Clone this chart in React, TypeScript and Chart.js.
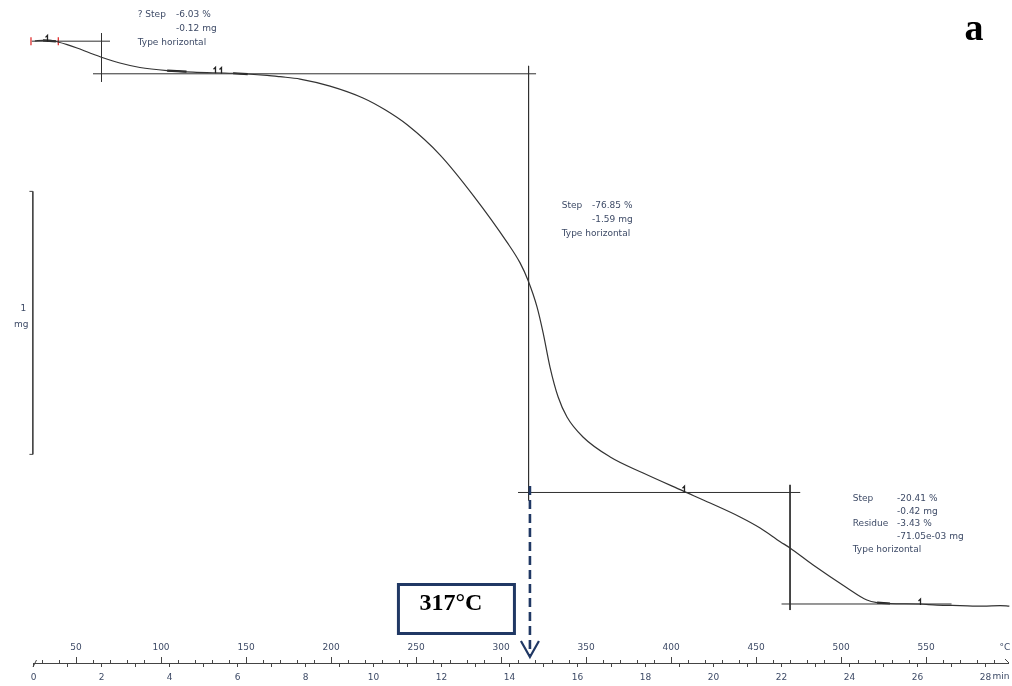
import React, { useEffect, useRef } from 'react';
import { Chart, registerables } from 'chart.js';

Chart.register(...registerables);

// TGA mass-loss curve: time (min) against sample mass (mg)
const timeMin = [0.04, 0.28, 0.49, 0.72, 0.99, 1.28, 1.66, 2.02, 2.54, 3.13, 3.93, 4.69, 5.87, 6.87, 7.25, 7.84, 8.72, 9.69, 10.34, 10.99, 11.96, 12.93, 13.93, 14.31, 14.54, 14.81, 14.99, 15.19, 15.43, 15.69, 16.16, 16.96, 17.93, 19.10, 19.90, 20.78, 21.37, 21.96, 22.25, 22.93, 23.93, 24.51, 24.81, 25.19, 26.07, 26.57, 27.25, 27.93, 28.43, 28.70];
const massMg = [2.212, 2.214, 2.214, 2.208, 2.198, 2.185, 2.166, 2.149, 2.128, 2.111, 2.099, 2.093, 2.089, 2.081, 2.076, 2.067, 2.040, 1.995, 1.950, 1.893, 1.778, 1.625, 1.446, 1.368, 1.303, 1.200, 1.101, 0.972, 0.858, 0.782, 0.706, 0.630, 0.569, 0.501, 0.455, 0.402, 0.360, 0.308, 0.284, 0.219, 0.132, 0.086, 0.076, 0.073, 0.071, 0.067, 0.065, 0.063, 0.065, 0.063];

// Step evaluation (horizontal type)
const stepLossMg = [0.124, 1.592, 0.424];
const stepLossPct = [6.03, 76.85, 20.41];
const stepTimeMin = [2.0, 14.56, 22.25];
const residueMg = 0.07105;
const residuePct = 3.43;

// Heating programme: 25 °C start, 20 K/min
const startTempC = 25;
const heatingRate = 20;
const onsetTempC = 317;

// Axis ticks
const timeRange = [0, 28.66];
const timeLabelStep = 2;
const tempMinorTicks = Array.from({ length: 57 }, (_, i) => 30 + i * 10);
const tempLabels = [50, 100, 150, 200, 250, 300, 350, 400, 450, 500, 550];

// Mass scale bar (1 mg)
const scaleBarMg = [0.64, 1.64];

// Evaluation limit marks on the curve
const limitMarks = [
  { x: 0.40, y: 2.214 },
  { x: 5.35, y: 2.093 },
  { x: 5.52, y: 2.092 },
  { x: 19.12, y: 0.500 },
  { x: 26.07, y: 0.071 },
];
const limitSegments = [
  [{ x: 0.28, y: 2.214 }, { x: 0.66, y: 2.210 }],
  [{ x: 3.93, y: 2.099 }, { x: 4.5, y: 2.095 }],
  [{ x: 5.87, y: 2.089 }, { x: 6.3, y: 2.086 }],
  [{ x: 24.81, y: 0.076 }, { x: 25.19, y: 0.073 }],
];

const INK = '#303030';
const TEXT = '#3d4a66';
const NAVY = '#203864';
const SMALL = '9px "DejaVu Sans"';

export default function App() {
  const ref = useRef<HTMLCanvasElement>(null);

  useEffect(() => {
    const L3 = residueMg;
    const L2 = L3 + stepLossMg[2];
    const L1 = L2 + stepLossMg[1];
    const L0 = L1 + stepLossMg[0];

    const curve = timeMin.map((t, i) => ({ x: t, y: massMg[i] }));

    const seg = (pts: { x: number; y: number }[], width = 1, color = INK) => ({
      data: pts,
      borderColor: color,
      borderWidth: width,
      pointRadius: 0,
      clip: false as const,
    });

    const stepLines = [
      // step 1
      [{ x: -0.05, y: L0 }, { x: 2.25, y: L0 }],
      [{ x: stepTimeMin[0], y: L0 + 0.03 }, { x: stepTimeMin[0], y: L1 - 0.03 }],
      [{ x: 1.75, y: L1 }, { x: 14.78, y: L1 }],
      // step 2
      [{ x: stepTimeMin[1], y: L1 + 0.03 }, { x: stepTimeMin[1], y: L2 - 0.03 }],
      [{ x: 14.25, y: L2 }, { x: 22.55, y: L2 }],
      // step 3
      [{ x: stepTimeMin[2], y: L2 + 0.029 }, { x: stepTimeMin[2], y: L3 - 0.023 }],
      [{ x: 22.0, y: L3 }, { x: 27.0, y: L3 }],
    ];

    const scaleBar = [
      { x: -0.12, y: scaleBarMg[1] },
      { x: -0.02, y: scaleBarMg[1] },
      { x: -0.02, y: scaleBarMg[0] },
      { x: -0.12, y: scaleBarMg[0] },
    ];

    const overlay = {
      id: 'tgaOverlay',
      afterDatasetsDraw(chart: any) {
        const { ctx, chartArea, scales } = chart;
        const xs = scales.x;
        const ys = scales.y;
        const xT = scales.xT;
        const px = (t: number) => xs.getPixelForValue(t);
        const py = (m: number) => ys.getPixelForValue(m);
        const axisY = chartArea.bottom;
        ctx.save();

        // temperature ticks above the time axis
        ctx.strokeStyle = '#444';
        ctx.lineWidth = 1;
        ctx.beginPath();
        tempMinorTicks.forEach((T) => {
          const X = Math.round(xT.getPixelForValue(T)) + 0.5;
          const len = T % 50 === 0 ? 6 : 3;
          ctx.moveTo(X, axisY);
          ctx.lineTo(X, axisY - len);
        });
        // axis end marks
        ctx.moveTo(chartArea.left - 0.5, axisY + 4);
        ctx.lineTo(chartArea.left + 3, axisY - 3);
        ctx.moveTo(chartArea.right - 3, axisY - 4);
        ctx.lineTo(chartArea.right + 1, axisY);
        ctx.stroke();

        ctx.fillStyle = TEXT;
        ctx.font = SMALL;
        ctx.textAlign = 'center';
        ctx.textBaseline = 'middle';
        tempLabels.forEach((T) => ctx.fillText(String(T), xT.getPixelForValue(T), axisY - 15));
        ctx.fillText('°C', chartArea.right - 3, axisY - 15);
        ctx.textAlign = 'left';
        ctx.fillText('min', px(28) + 7, axisY + 14);

        // scale bar label
        const midY = py((scaleBarMg[0] + scaleBarMg[1]) / 2);
        ctx.textAlign = 'center';
        ctx.fillText('1', px(-0.3), midY - 14);
        ctx.fillText('mg', px(-0.36), midY + 2);

        // step annotations
        const block = (t: number, m: number, col2: number, gap: number, rows: [string, string][]) => {
          const X = px(t);
          const Y = py(m);
          ctx.textAlign = 'left';
          rows.forEach(([a, b], i) => {
            if (a) ctx.fillText(a, X, Y + i * gap);
            if (b) ctx.fillText(b, X + col2, Y + i * gap);
          });
        };
        block(3.065, 2.3106, 38.3, 13.8, [
          ['? Step', `-${stepLossPct[0].toFixed(2)} %`],
          ['', `-${stepLossMg[0].toFixed(2)} mg`],
          ['Type horizontal', ''],
        ]);
        block(15.535, 1.584, 30.3, 13.6, [
          ['Step', `-${stepLossPct[1].toFixed(2)} %`],
          ['', `-${stepLossMg[1].toFixed(2)} mg`],
          ['Type horizontal', ''],
        ]);
        block(24.094, 0.4729, 44.3, 12.9, [
          ['Step', `-${stepLossPct[2].toFixed(2)} %`],
          ['', `-${stepLossMg[2].toFixed(2)} mg`],
          ['Residue', `-${residuePct.toFixed(2)} %`],
          ['', `-${(residueMg * 1000).toFixed(2)}e-03 mg`],
          ['Type horizontal', ''],
        ]);

        // evaluation limit marks
        ctx.strokeStyle = '#222';
        ctx.lineWidth = 1.3;
        ctx.beginPath();
        limitMarks.forEach((p) => {
          const X = Math.round(px(p.x)) + 0.5;
          const Y = py(p.y);
          ctx.moveTo(X, Y + 1);
          ctx.lineTo(X, Y - 5);
          ctx.lineTo(X - 2, Y - 3);
        });
        ctx.stroke();

        // onset marker: dashed arrow down to the temperature axis
        const ax = xT.getPixelForValue(onsetTempC);
        ctx.strokeStyle = NAVY;
        ctx.lineWidth = 2.6;
        ctx.setLineDash([9, 5]);
        ctx.beginPath();
        ctx.moveTo(ax, py(L2) - 6.5);
        ctx.lineTo(ax, axisY - 8);
        ctx.stroke();
        ctx.setLineDash([]);
        ctx.lineWidth = 2.2;
        ctx.beginPath();
        ctx.moveTo(ax - 9, axisY - 22);
        ctx.lineTo(ax, axisY - 6);
        ctx.lineTo(ax + 9, axisY - 22);
        ctx.stroke();

        // onset temperature box
        const bl = ax - 133;
        const br = ax - 14;
        const bt = axisY - 80;
        const bb = axisY - 28;
        ctx.lineWidth = 3;
        ctx.strokeRect(bl + 1.5, bt + 1.5, br - bl - 3, bb - bt - 3);
        ctx.fillStyle = '#000';
        ctx.font = 'bold 24px "Liberation Serif"';
        ctx.textAlign = 'center';
        ctx.textBaseline = 'alphabetic';
        ctx.fillText(`${onsetTempC}°C`, bl + 54, axisY - 53);

        // panel letter
        ctx.font = 'bold 38px "Liberation Serif"';
        ctx.fillText('a', chartArea.right - 34, 40);

        ctx.restore();
      },
    };

    const chart = new Chart(ref.current as HTMLCanvasElement, {
      type: 'line',
      data: {
        datasets: [
          {
            data: curve,
            borderColor: '#333',
            borderWidth: 1.2,
            pointRadius: 0,
            cubicInterpolationMode: 'monotone',
            clip: false,
          } as any,
          ...stepLines.map((s) => seg(s)),
          ...limitSegments.map((s) => seg(s, 2.2, '#222')),
          seg(scaleBar, 1, '#444'),
          {
            data: [
              { x: -0.074, y: L0 },
              { x: 0.73, y: L0 },
            ],
            showLine: false,
            pointStyle: 'line',
            rotation: 90,
            pointRadius: 4,
            pointBorderColor: '#e03030',
            pointBorderWidth: 1.3,
            clip: false,
          } as any,
        ],
      },
      options: {
        responsive: false,
        animation: false,
        devicePixelRatio: 1,
        events: [],
        layout: { autoPadding: false, padding: { left: 33.5, right: 4, top: 0, bottom: -1.8 } },
        plugins: { legend: { display: false }, tooltip: { enabled: false } },
        scales: {
          x: {
            type: 'linear',
            position: 'bottom',
            min: timeRange[0],
            max: timeRange[1],
            border: { display: true, color: '#444', width: 1 },
            grid: { display: true, drawOnChartArea: false, drawTicks: true, tickLength: 4, color: '#444' },
            ticks: {
              stepSize: 1,
              autoSkip: false,
              includeBounds: false,
              maxRotation: 0,
              padding: 5,
              color: TEXT,
              font: { family: 'DejaVu Sans', size: 9 },
              callback: (v: any) => (Number(v) % timeLabelStep === 0 ? String(v) : ''),
            },
          },
          xT: {
            type: 'linear',
            axis: 'x',
            position: 'bottom',
            display: false,
            min: startTempC + heatingRate * timeRange[0],
            max: startTempC + heatingRate * timeRange[1],
          },
          y: {
            type: 'linear',
            display: false,
            min: -0.1533,
            max: 2.3676,
          },
        },
      } as any,
      plugins: [overlay],
    });
    return () => chart.destroy();
  }, []);

  return (
    <div style={{ position: 'fixed', left: 0, top: 0, width: 1012, height: 686, background: '#fff' }}>
      <canvas ref={ref} width={1012} height={686} style={{ display: 'block' }} />
    </div>
  );
}
